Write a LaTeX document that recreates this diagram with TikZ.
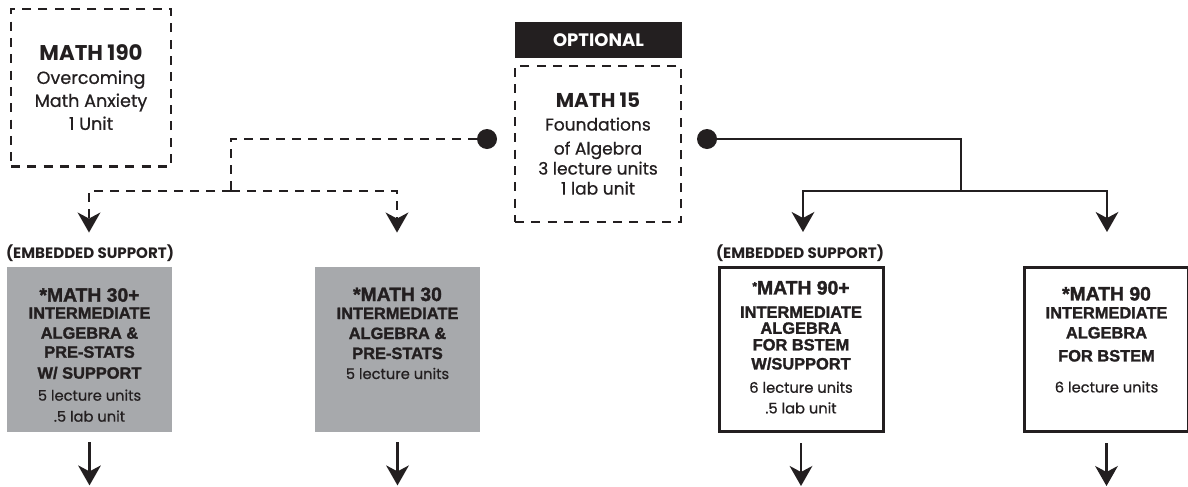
\documentclass[tikz,border=0pt]{standalone}
\usepackage{fontspec}
\newfontfamily\futfont{Poppins}[UprightFeatures={FakeBold=0.7}]
\newfontfamily\arlfont{Liberation Sans}[BoldFeatures={FakeBold=1.6}]
\usepackage{tikz}
\usetikzlibrary{arrows.meta}
\usetikzlibrary{positioning}
\usetikzlibrary{calc}
\definecolor{ink}{RGB}{35,31,32}
\definecolor{boxgray}{RGB}{167,169,172}
\tikzset{every picture/.style={x=0.75pt,y=-0.75pt}}

\begin{document}
\begin{tikzpicture}[
  dbox/.style={draw=ink, line width=2pt, dash pattern=on 6.75pt off 5.5pt, inner sep=0pt, align=center, text=ink},
  gbox/.style={fill=boxgray, minimum width=124pt, minimum height=124pt, inner sep=0pt},
  wbox/.style={draw=ink, line width=2.25pt, fill=white, minimum width=123pt, minimum height=123pt, inner sep=0pt},
  dot/.style={circle, fill=ink, minimum size=15pt, inner sep=0pt},
  dline/.style={draw=ink, line width=2pt, dash pattern=on 6.5pt off 5.5pt},
  sline/.style={draw=ink, line width=1.8pt},
  tip/.style={-{Stealth[length=15pt,width=17pt,inset=4.5pt]}},
  body/.style={inner sep=0pt, align=center, text=ink, font=\arlfont\bfseries\fontsize{12.3}{15}\selectfont},
  note/.style={inner sep=0pt, text=ink, font=\futfont\bfseries\fontsize{11.3}{12}\selectfont}]
\useasboundingbox (0,0) rectangle (1188,486);
\clip (0,0) rectangle (1188,486);

% top row
\node (m190) at (91,87.5) [dbox, minimum width=120pt, minimum height=118pt, font=\futfont\fontsize{13.2}{17.25}\selectfont]
  {{\bfseries\fontsize{16}{17.25}\selectfont MATH 190}\\Overcoming\\Math Anxiety\\1 Unit};
\node (opt) at (598.5,40) [fill=ink, minimum width=125pt, minimum height=27pt, text=white, font=\futfont\bfseries\fontsize{13.5}{14}\selectfont] {OPTIONAL};
\node (m15) at (598,144) [dbox, minimum width=124.5pt, minimum height=117pt, font=\futfont\fontsize{12.8}{17}\selectfont]
  {{\bfseries\fontsize{15}{17}\selectfont MATH 15}\\Foundations\\[1pt]of Algebra\\[-2pt]3 lecture units\\[-2pt]1 lab unit};
\node (dl) at (487,139) [dot] {};
\node (dr) at (707,139) [dot] {};

% bottom row
\node (m30p) at (89.5,349.5) [gbox] {};
\node (m30) at (397.5,349.5) [gbox] {};
\node (m90p) at (801,349.5) [wbox] {};
\node (m90) at (1106.5,349.5) [wbox] {};
\node (es1) at (90,253) [note] {(EMBEDDED SUPPORT)};
\node (es2) at (800,253) [note] {(EMBEDDED SUPPORT)};

\node (t30p) [body, below=16pt of m30p.north]
  {{\fontsize{14.5}{15}\selectfont *MATH 30+}\\[-2.25pt]INTERMEDIATE\\ALGEBRA \&\\[-0.75pt]PRE-STATS\\[0.75pt]W/ SUPPORT\\[1.5pt]%
   {\futfont\mdseries\fontsize{11}{15}\selectfont 5 lecture units}\\[0.75pt]{\futfont\mdseries\fontsize{11}{15}\selectfont .5 lab unit}};
\node (t30) [body, below=15.5pt of m30.north]
  {{\fontsize{14.5}{15}\selectfont *MATH 30}\\[-1.5pt]INTERMEDIATE\\ALGEBRA \&\\PRE-STATS\\{\futfont\mdseries\fontsize{11}{15}\selectfont 5 lecture units}};
\node (t90p) [body, below=11pt of m90p.north]
  {{\fontsize{14.5}{15}\selectfont\raisebox{3pt}{\fontsize{9}{9}\selectfont*}MATH 90+}\\[2.5pt]INTERMEDIATE\\[-3pt]ALGEBRA\\[-2.5pt]FOR BSTEM\\[-0.75pt]W/SUPPORT\\[2.5pt]%
   {\futfont\mdseries\fontsize{11}{15}\selectfont 6 lecture units}\\[0.5pt]{\futfont\mdseries\fontsize{11}{15}\selectfont .5 lab unit}};
\node (t90) [body, below=15.5pt of m90.north]
  {{\fontsize{14.5}{15}\selectfont *MATH 90}\\[-1.5pt]INTERMEDIATE\\ALGEBRA\\[2.25pt]FOR BSTEM\\[8.25pt]{\futfont\mdseries\fontsize{11}{15}\selectfont 6 lecture units}};

% connectors
\coordinate (jl) at (231,191);
\coordinate (jr) at (961,191);
\draw[dline] (dl) -| (jl);
\draw[dline, tip] (jl) -| ($(m30p.north)+(-0.5,-34)$);
\draw[dline, tip] (jl) -| ($(m30.north)+(-0.5,-34)$);
\draw[sline] (dr) -| (jr);
\draw[sline, tip] (jr) -| ($(m90p.north)+(2,-34)$);
\draw[sline, tip] (jr) -| ($(m90.north)+(0.5,-34)$);
\foreach \b in {m30p,m30,m90p,m90} {
\draw[sline, tip] ($(\b.south)+(0,10)$) -- ++(0,43);
}
\end{tikzpicture}
\end{document}
